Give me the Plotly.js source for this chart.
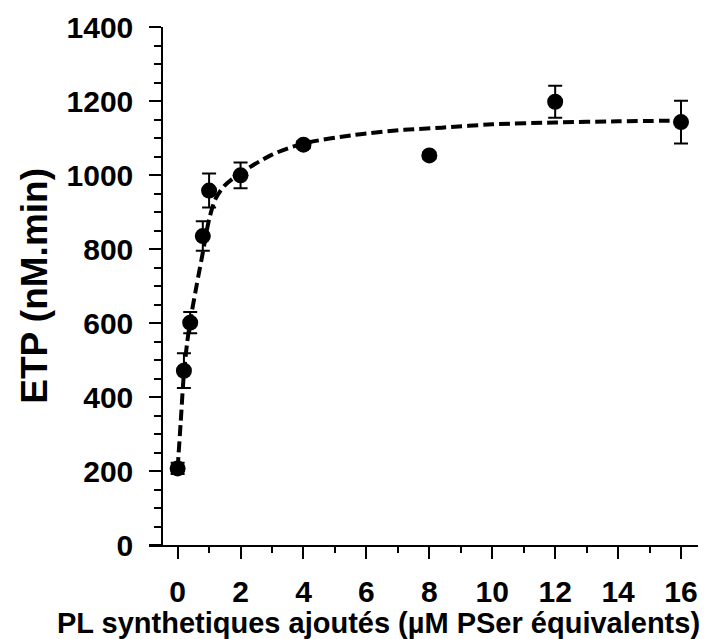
<!DOCTYPE html>
<html>
<head>
<meta charset="utf-8">
<script src="https://cdn.plot.ly/plotly-3.0.1.min.js"></script>
<style>
  html, body { margin: 0; padding: 0; background: #fff; }
  #chart { width: 712px; height: 639px; }
</style>
</head>
<body>
<div id="chart"></div>
<script>
// Measured data points
const concX = [0, 0.2, 0.4, 0.8, 1, 2, 4, 8, 12, 16];
const etpY = [207, 471, 601, 835, 958, 999, 1082, 1053, 1198, 1143];
const etpErr = [15, 47, 29, 40, 46, 35, 10, 8, 43, 58];

// Dashed fitted curve
const fitX = [0, 0.1, 0.2, 0.3, 0.4, 0.6, 0.8, 1.0, 1.2, 1.5, 2, 3, 4, 5.6, 7.2, 8.4, 10, 12, 14, 16];
const fitY = [207, 335, 465, 545, 605, 700, 790, 880, 935, 972, 1005, 1055, 1085, 1108, 1122, 1128, 1137, 1142, 1145, 1147];

const xTickVals = [0, 2, 4, 6, 8, 10, 12, 14, 16];
const yTickVals = [0, 200, 400, 600, 800, 1000, 1200, 1400];

const xTitle = 'PL synthetiques ajoutés (µM PSer équivalents)';
const yTitle = 'ETP (nM.min)';

const FONT = 'Liberation Sans, Arial, Helvetica, sans-serif';

const traces = [
  {
    x: fitX, y: fitY, type: 'scatter', mode: 'lines',
    line: { color: '#000', width: 4, dash: '11px,5px', shape: 'spline', smoothing: 0.8 },
    hoverinfo: 'skip', showlegend: false
  },
  {
    x: concX, y: etpY, type: 'scatter', mode: 'markers',
    marker: { color: '#000', size: 16 },
    error_y: { type: 'data', array: etpErr, visible: true, color: '#000', thickness: 2, width: 7 },
    showlegend: false
  }
];

const layout = {
  width: 712, height: 639,
  margin: { l: 149, r: 14, t: 27, b: 94 },
  paper_bgcolor: '#fff', plot_bgcolor: '#fff',
  font: { family: FONT, color: '#000' },
  xaxis: {
    range: [-0.91, 16.54],
    showgrid: false, zeroline: false,
    showline: true, linecolor: '#000', linewidth: 2,
    ticks: 'outside', ticklen: 12, tickwidth: 2, tickcolor: '#000',
    tickvals: xTickVals, ticktext: xTickVals.map(String),
    tickfont: { family: FONT, size: 30, weight: 700, color: '#000' },
    ticklabelstandoff: 7,
    minor: { dtick: 1, tick0: 0, ticks: 'outside', ticklen: 6, tickwidth: 2, tickcolor: '#000', showgrid: false }
  },
  yaxis: {
    range: [0, 1400],
    anchor: 'free', position: 0.0242,
    showgrid: false, zeroline: false,
    showline: true, linecolor: '#000', linewidth: 2,
    ticks: 'outside', ticklen: 12, tickwidth: 2, tickcolor: '#000',
    tickvals: yTickVals, ticktext: yTickVals.map(String),
    tickfont: { family: FONT, size: 30, weight: 700, color: '#000' },
    ticklabelstandoff: 10,
    minor: { dtick: 50, tick0: 0, ticks: 'outside', ticklen: 7, tickwidth: 2, tickcolor: '#000', showgrid: false }
  },
  annotations: [
    {
      text: xTitle, xref: 'paper', yref: 'paper',
      x: 0.418, y: -0.151, xanchor: 'center', yanchor: 'middle',
      showarrow: false,
      font: { family: FONT, size: 29, weight: 700, color: '#000' }
    },
    {
      text: yTitle, xref: 'paper', yref: 'paper',
      x: -0.21, y: 0.5, xanchor: 'center', yanchor: 'middle',
      textangle: -90, showarrow: false,
      font: { family: FONT, size: 37, weight: 700, color: '#000' }
    }
  ]
};

Plotly.newPlot('chart', traces, layout, { displayModeBar: false, staticPlot: true });
</script>
</body>
</html>
